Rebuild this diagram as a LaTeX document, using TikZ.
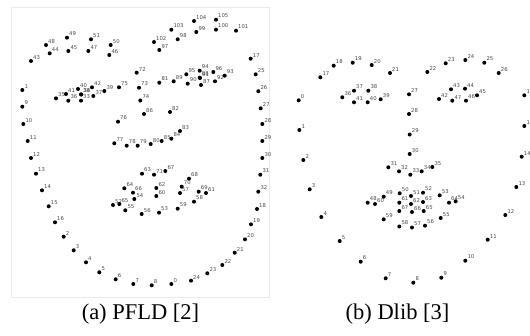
\documentclass[tikz,border=0pt]{standalone}
\usepackage{fontspec}
\setmainfont{Liberation Serif}
\newfontfamily\lblfont{DejaVu Sans}
\begin{document}
\begin{tikzpicture}[x=1pt,y=-1pt,
  dot/.style={circle,fill=black,inner sep=0pt,minimum size=4pt},
  lbl/.style={anchor=south west,inner sep=0pt,font=\lblfont\fontsize{5.3}{6}\selectfont,text=black!72},
  captxt/.style={inner sep=0pt,font=\fontsize{22.5}{26}\selectfont},
  panelframe/.style={draw=black!8,line width=0.6pt}]
\useasboundingbox (0,0) rectangle (530,335);
\clip (0,0) rectangle (530,335);
\draw[panelframe] (11.7,7.3) rectangle (269.3,297);
% (a) PFLD
\foreach \n/\x/\y in {0/171.3/284,1/22.3/90,2/63.7/236.7,3/73.7/250.3,4/86/262.3,5/99.3/272.3,6/115.7/279.3,7/133.3/284,8/151.7/285.3,9/22.3/106.7,10/23.3/124,11/27.7/141,12/31/158,13/36/173.7,14/42/190.3,15/48.7/206.3,16/55/222.3,17/250.7/58.7,18/257/209,19/251/224.3,20/245/239.3,21/234.7/252.7,22/222.3/265,23/207.3/273.3,24/191/280.7,25/255.7/74.3,26/258.3/91.2,27/260.7/108.3,28/262.3/124,29/262.3/141,30/262.3/158,31/260.3/174.7,32/258.3/191.7,33/81/100.7,34/81.3/94.6,35/56/98.3,36/68.3/100.7,37/93.3/96,38/81/94.3,39/104.3/91,40/78/89,41/66/94,42/92/87.3,43/31/61,44/49.7/53.3,45/68.3/51,46/109.3/55,47/88.3/51,48/46/45,49/67/37.7,50/110.7/45,51/91/39.3,52/113/205,53/159/212.7,54/134.3/199,55/125.3/210.3,56/141.7/214,57/180/193,58/194/201.7,59/177.7/208.7,60/156.3/196,61/206/193,62/156.3/188,63/142/173.7,64/124.3/188.3,65/119.3/204,66/133/192.7,67/165.3/171,68/189/178.7,69/198.7/191.7,70/181.7/186.7,71/154/174.7,72/136.7/72.7,73/139/87.7,74/140.3/100.5,75/119/87.3,76/118/121.7,77/114.3/143.3,78/126.7/145.7,79/137.7/145.7,80/150.7/144,81/159.3/82.7,82/170/112,83/180/131,84/171.3/138.7,85/161.7/141,86/144/114,87/201/85,88/199.7/77.7,89/173.7/81.3,90/187.7/83.7,91/200/78,92/215/81.3,93/224.7/75.7,94/199.7/70.7,95/186.3/74.3,96/213.3/72,97/159.3/50,98/177.7/39.3,99/196.3/32,100/216/29.7,101/236/30.7,102/154/42,103/171.3/29.7,104/194/21,105/216/19.7}{
  \node[dot] (a\n) at (\x,\y) {};
  \node[lbl] (la\n) at ([shift={(2,-1.5)}]a\n.center) {\n};
}
% (b) Dlib
\foreach \n/\x/\y in {0/298.7/100.3,1/299.3/130,2/303.3/160,3/309.7/189.3,4/321.3/217,5/339.7/241,6/360.7/261.7,7/385.7/278.3,8/413.3/282.7,9/441.3/277.7,10/465.3/260.7,11/487.7/239.7,12/505.3/215,13/516.3/187,14/521.7/156.7,15/524.3/126,16/524.3/95.3,17/320.3/77.3,18/333.7/65.7,19/352.7/62.7,20/371.7/65,21/390/73,22/427.3/72,23/445.7/63.3,24/465.3/60,25/484.3/62.7,26/498.7/73,27/409/94.3,28/409/114,29/409.7/134.5,30/409.7/154,31/388.3/167.3,32/399/171.3,33/410.3/174.7,34/421.7/171.3,35/432.3/167,36/342.3/97.3,37/354/90.7,38/368.3/90.7,39/380.7/99.3,40/367.7/102.3,41/354/102.3,42/439/99,43/451/89.3,44/465/88.7,45/477/95.3,46/466/100.7,47/452.3/100.7,48/367.7/202.7,49/383.7/196.7,50/399.7/193.3,51/411/196,52/423/192.7,53/439.7/195.3,54/455.7/201.3,55/440.7/218,56/425/225.7,57/412/227.5,58/399.3/226.5,59/383.7/219.3,60/375/204,61/399.3/202.7,62/411/204,63/423/202,64/449/202.7,65/423.7/211,66/412/212,67/399.3/211}{
  \node[dot] (b\n) at (\x,\y) {};
  \node[lbl] (lb\n) at ([shift={(2,-1.5)}]b\n.center) {\n};
}
\node[captxt] (capa) at (140.5,314.5) {(a) PFLD [2]};
\node[captxt] (capb) at (397.5,314.5) {(b) Dlib [3]};
\end{tikzpicture}
\end{document}
